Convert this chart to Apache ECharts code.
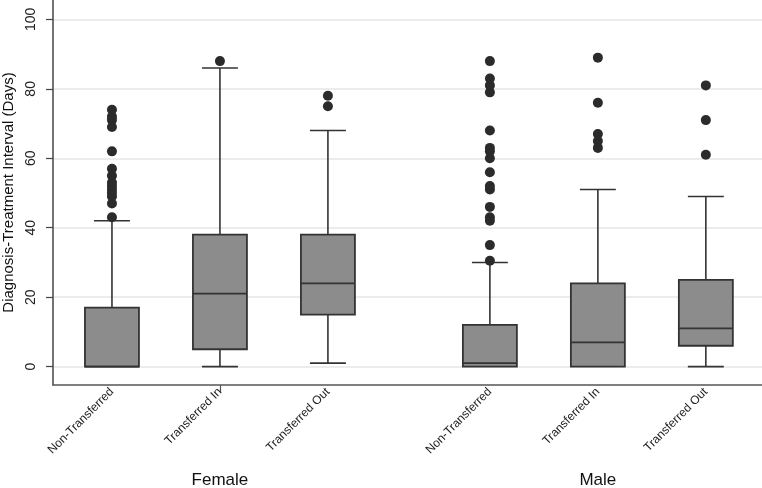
<!DOCTYPE html>
<html>
<head>
<meta charset="utf-8">
<script src="https://cdn.jsdelivr.net/npm/echarts@6/dist/echarts.min.js"></script>
<style>
html,body{margin:0;padding:0;background:#fff;}
#c{width:762px;height:488px;}
</style>
</head>
<body>
<div id="c"></div>
<script>
// ---- data ----
const groups = ['Female', 'Male'];
const categories = ['Non-Transferred', 'Transferred In', 'Transferred Out'];
// [min, Q1, median, Q3, max]
const boxFemale = [[0, 0, 0, 17, 42], [0, 5, 21, 38, 86], [1, 15, 24, 38, 68]];
const boxMale = [[0, 0, 1, 12, 30], [0, 0, 7, 24, 51], [0, 6, 11, 25, 49]];
const outFemale = [
  [43, 47, 49, 50, 51, 52, 53, 55, 57, 62, 69, 71, 72, 74],
  [88],
  [75, 78]
];
const outMale = [
  [30.5, 35, 42, 43, 46, 51, 52, 56, 60, 62, 63, 68, 79, 81, 83, 88],
  [63, 65, 67, 76, 89],
  [61, 71, 81]
];
const yTicks = [0, 20, 40, 60, 80, 100];

// ---- build ----
const FONT = "'Liberation Sans', Arial, sans-serif";
const groupGap = 3.5;
const boxData = [];
const outData = [];
const labelPos = [];
const labelText = {};
[boxFemale, boxMale].forEach((g, gi) => {
  g.forEach((b, ci) => {
    const x = gi * groupGap + ci;
    boxData.push([x].concat(b));
    labelPos.push(x);
    labelText[x] = categories[ci];
  });
});
[outFemale, outMale].forEach((g, gi) => {
  g.forEach((arr, ci) => {
    const x = gi * groupGap + ci;
    arr.forEach(v => outData.push([x, v]));
  });
});
const groupPos = groups.map((_, gi) => gi * groupGap + 1);
const groupText = {};
groupPos.forEach((p, i) => groupText[p] = groups[i]);

const chart = echarts.init(document.getElementById('c'));
const lineStyle = { stroke: '#333', lineWidth: 1.6 };

chart.setOption({
  animation: false,
  backgroundColor: '#fff',
  grid: { left: 53, right: 0, top: 0, bottom: 103, containLabel: false, outerBoundsMode: 'none' },
  xAxis: [{
    type: 'value', min: -0.546, max: 6.02, position: 'bottom',
    axisLine: { show: true, onZero: false, lineStyle: { color: '#555', width: 1.5 } },
    axisTick: { show: true, customValues: [groupPos[0]], length: 7, lineStyle: { color: '#555', width: 1.2 } },
    splitLine: { show: false },
    axisLabel: {
      customValues: labelPos, rotate: 45, margin: 5,
      fontFamily: FONT, fontSize: 12, color: '#222',
      formatter: v => labelText[v] || ''
    }
  }, {
    type: 'value', min: -0.546, max: 6.02, position: 'bottom',
    axisLine: { show: false }, axisTick: { show: false }, splitLine: { show: false },
    axisLabel: {
      customValues: groupPos, margin: 87,
      fontFamily: FONT, fontSize: 17, color: '#111',
      formatter: v => groupText[v] || ''
    }
  }],
  yAxis: {
    type: 'value', min: -5.3, max: 105.6,
    name: 'Diagnosis-Treatment Interval (Days)',
    nameLocation: 'middle', nameGap: 35, nameRotate: 90,
    nameTextStyle: { fontFamily: FONT, fontSize: 15, color: '#111' },
    axisLine: { show: true, onZero: false, lineStyle: { color: '#444', width: 1.5 } },
    axisTick: { show: true, customValues: yTicks, length: 7, lineStyle: { color: '#444', width: 1.2 } },
    splitLine: { show: true, lineStyle: { color: '#e6e6e6', width: 1.5 } },
    axisLabel: {
      customValues: yTicks, rotate: 90, margin: 15,
      fontFamily: FONT, fontSize: 14, color: '#222'
    }
  },
  series: [{
    type: 'custom',
    xAxisIndex: 0,
    data: boxData,
    encode: { x: 0, y: [1, 2, 3, 4, 5] },
    renderItem: function (params, api) {
      const x = api.value(0);
      const lo = api.coord([x, api.value(1)]);
      const q1 = api.coord([x, api.value(2)]);
      const md = api.coord([x, api.value(3)]);
      const q3 = api.coord([x, api.value(4)]);
      const hi = api.coord([x, api.value(5)]);
      const unit = api.size([1, 0])[0];
      const bw = unit * 0.5, cw = unit * 0.333;
      const cx = q1[0];
      const children = [];
      if (api.value(5) > api.value(4)) {
        children.push({ type: 'line', shape: { x1: cx, y1: q3[1], x2: cx, y2: hi[1] }, style: lineStyle });
        children.push({ type: 'line', shape: { x1: cx - cw / 2, y1: hi[1], x2: cx + cw / 2, y2: hi[1] }, style: lineStyle });
      }
      if (api.value(1) < api.value(2)) {
        children.push({ type: 'line', shape: { x1: cx, y1: q1[1], x2: cx, y2: lo[1] }, style: lineStyle });
        children.push({ type: 'line', shape: { x1: cx - cw / 2, y1: lo[1], x2: cx + cw / 2, y2: lo[1] }, style: lineStyle });
      }
      children.push({
        type: 'rect',
        shape: { x: cx - bw / 2, y: q3[1], width: bw, height: q1[1] - q3[1] },
        style: { fill: '#8c8c8c', stroke: '#333', lineWidth: 1.8 }
      });
      children.push({ type: 'line', shape: { x1: cx - bw / 2, y1: md[1], x2: cx + bw / 2, y2: md[1] }, style: { stroke: '#333', lineWidth: 1.8 } });
      return { type: 'group', children: children };
    }
  }, {
    type: 'scatter',
    xAxisIndex: 0,
    data: outData,
    symbol: 'circle',
    symbolSize: 10,
    itemStyle: { color: '#2b2b2b', opacity: 1 }
  }]
});
</script>
</body>
</html>
